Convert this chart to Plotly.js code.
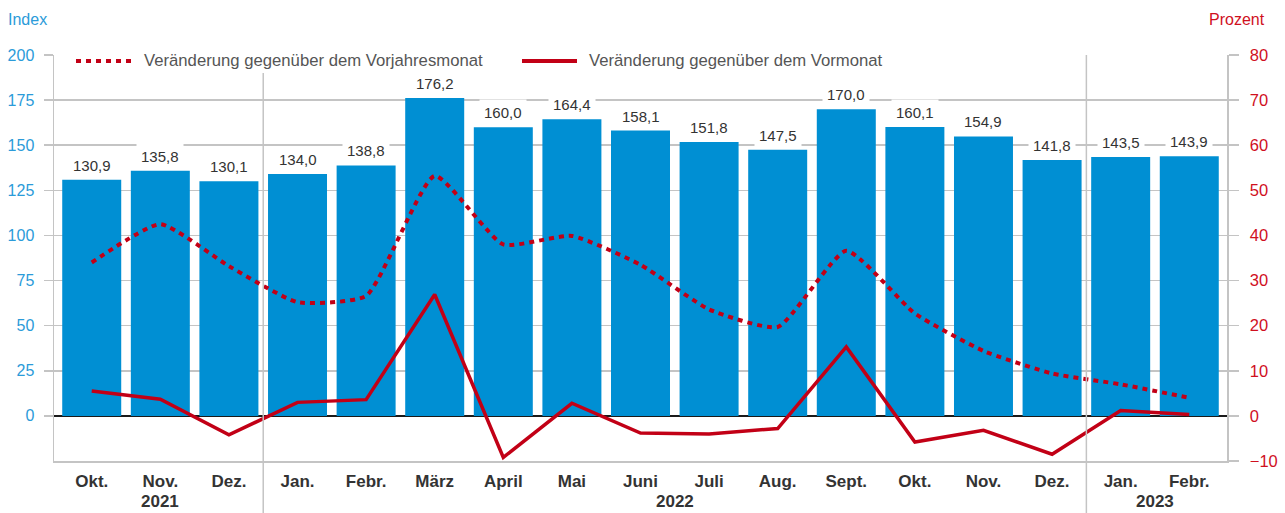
<!DOCTYPE html>
<html>
<head>
<meta charset="utf-8">
<script src="https://cdn.plot.ly/plotly-3.0.1.min.js"></script>
<style>html,body{margin:0;padding:0;background:#fff;}#chart{width:1285px;height:513px;}</style>
</head>
<body>
<div id="chart"></div>
<script>
// ---- data ----
const months = ['Okt.','Nov.','Dez.','Jan.','Febr.','März','April','Mai','Juni','Juli','Aug.','Sept.','Okt.','Nov.','Dez.','Jan.','Febr.'];
const years = ['2021','2022','2023'];
const monthsPerYear = [3, 12, 2];
const indexValues = [130.9,135.8,130.1,134.0,138.8,176.2,160.0,164.4,158.1,151.8,147.5,170.0,160.1,154.9,141.8,143.5,143.9];
const vorjahresmonat = [34.0,42.5,33.2,25.2,26.6,53.2,38.0,39.9,33.5,23.6,19.7,36.6,22.7,14.4,9.4,7.0,4.0];
const vormonat = [5.5,3.7,-4.2,3.0,3.6,26.9,-9.2,2.8,-3.8,-4.0,-2.8,15.3,-5.8,-3.2,-8.5,1.2,0.3];
const leftTicks = [0,25,50,75,100,125,150,175,200];
const legendNames = ['Veränderung gegenüber dem Vorjahresmonat','Veränderung gegenüber dem Vormonat'];

// ---- styling ----
const FONT = 'Liberation Sans, Arial, Helvetica, sans-serif';
const BLUE = '#008fd3';
const BLUE_TXT = '#2b9bd9';
const RED = '#c20016';
const RED_TXT = '#d0101e';
const GRID = '#c4c4c4';
const W = 1285, H = 513;
const M = {l:54, r:58, t:55, b:52};
const PW = W - M.l - M.r, PH = H - M.t - M.b;
const px2x = p => (p - M.l) / PW;
const py2y = p => (H - M.b - p) / PH;

const xs = months.map((_, i) => i);

const traces = [
  {type:'bar', x:xs, y:indexValues, marker:{color:BLUE, line:{width:0}}, hoverinfo:'skip', showlegend:false},
  {type:'scatter', mode:'lines', x:xs, y:vorjahresmonat, yaxis:'y2', name:legendNames[0],
   line:{color:RED, width:4, dash:'5px,5px', shape:'spline', smoothing:0.5}, showlegend:false},
  {type:'scatter', mode:'lines', x:xs, y:vormonat, yaxis:'y2', name:legendNames[1],
   line:{color:RED, width:3.5}, showlegend:false}
];

// year dividers and centers
const shapes = [];
const annotations = [];
let start = 0;
years.forEach((yr, k) => {
  const n = monthsPerYear[k];
  const end = start + n - 1;
  annotations.push({xref:'x', yref:'paper', x:(start + end) / 2, y:py2y(H - 1), text:yr, showarrow:false,
    xanchor:'center', yanchor:'bottom', borderpad:0, font:{family:FONT, size:17, color:'#333', weight:'bold'}});
  if (k > 0) {
    shapes.push({type:'line', xref:'x', yref:'paper', x0:start - 0.5, x1:start - 0.5, y0:py2y(H), y1:1,
      line:{color:GRID, width:1.5}, layer:'above'});
  }
  start += n;
});

// legend (white box breaking gridline, samples, texts)
shapes.push({type:'rect', xref:'paper', yref:'paper', x0:px2x(72), x1:px2x(889), y0:py2y(73), y1:py2y(45),
  fillcolor:'#ffffff', line:{width:0}, layer:'above'});
shapes.push({type:'line', xref:'paper', yref:'paper', x0:px2x(76), x1:px2x(131), y0:py2y(61), y1:py2y(61),
  line:{color:RED, width:4, dash:'5px,5px'}, layer:'above'});
shapes.push({type:'line', xref:'paper', yref:'paper', x0:px2x(522), x1:px2x(577), y0:py2y(61), y1:py2y(61),
  line:{color:RED, width:4}, layer:'above'});
annotations.push({xref:'paper', yref:'paper', x:px2x(142), y:py2y(61), text:legendNames[0], showarrow:false,
  xanchor:'left', yanchor:'middle', font:{family:FONT, size:16.7, color:'#555'}});
annotations.push({xref:'paper', yref:'paper', x:px2x(587), y:py2y(61), text:legendNames[1], showarrow:false,
  xanchor:'left', yanchor:'middle', font:{family:FONT, size:16.7, color:'#555'}});

// axis titles
annotations.push({xref:'paper', yref:'paper', x:px2x(6), y:py2y(20), text:'Index', showarrow:false,
  xanchor:'left', yanchor:'middle', font:{family:FONT, size:16, color:BLUE_TXT}});
annotations.push({xref:'paper', yref:'paper', x:px2x(1267), y:py2y(20), text:'Prozent', showarrow:false,
  xanchor:'right', yanchor:'middle', font:{family:FONT, size:16, color:RED_TXT}});

// bar value labels
indexValues.forEach((v, i) => {
  annotations.push({xref:'x', yref:'y', x:xs[i], y:v, text:v.toFixed(1).replace('.', ','), showarrow:false,
    xanchor:'center', yanchor:'bottom', yshift:1, bgcolor:'#ffffff', borderpad:4,
    font:{family:FONT, size:15, color:'#333'}});
});

const layout = {
  width:W, height:H, margin:M, paper_bgcolor:'#fff', plot_bgcolor:'#fff',
  showlegend:false, bargap:0.14, font:{family:FONT},
  xaxis:{range:[-0.55, 16.55], tickvals:xs, ticktext:months, ticks:'', showgrid:false, zeroline:false,
    showline:true, linecolor:GRID, linewidth:1.5, ticklabelstandoff:4,
    tickfont:{family:FONT, size:17, color:'#333', weight:'bold'}, fixedrange:true},
  yaxis:{range:[-25, 200], tickvals:leftTicks, ticktext:leftTicks.map(String), ticks:'outside', ticklen:9,
    tickcolor:GRID, tickwidth:1.5, showline:true, linecolor:GRID, linewidth:1.5,
    showgrid:true, gridcolor:GRID, gridwidth:1.5, zeroline:true, zerolinecolor:'#1a1a1a', zerolinewidth:1.5,
    ticklabelstandoff:6, tickfont:{family:FONT, size:16, color:BLUE_TXT}, fixedrange:true},
  yaxis2:{overlaying:'y', side:'right', range:[-10, 80], tick0:0, dtick:10, ticks:'outside', ticklen:10,
    tickcolor:GRID, tickwidth:1.5, showline:true, linecolor:GRID, linewidth:1.5, showgrid:false, zeroline:false,
    ticklabelstandoff:8, tickfont:{family:FONT, size:16.5, color:RED_TXT}, fixedrange:true},
  shapes:shapes, annotations:annotations
};

Plotly.newPlot('chart', traces, layout, {displayModeBar:false, staticPlot:true});
</script>
</body>
</html>
